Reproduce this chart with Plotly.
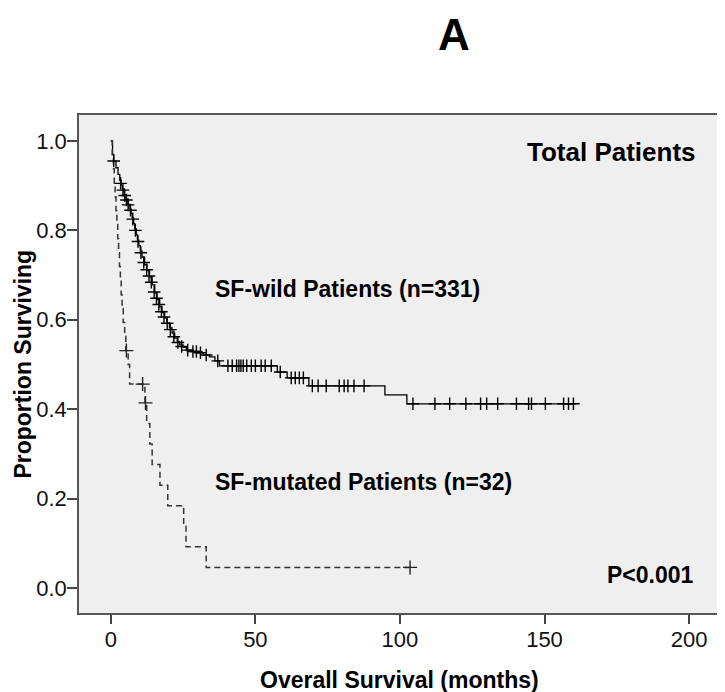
import plotly.graph_objects as go

# Kaplan-Meier steps (months, proportion surviving)
wild_t = [0, 0.6, 1.0, 1.8, 2.5, 3.1, 3.6, 4.0, 4.6, 5.2, 5.9, 6.6, 7.0, 7.4, 7.9, 8.3, 8.8, 9.2, 9.7,
          10.2, 10.8, 11.7, 12.5, 13.4, 14.3, 15.2, 16.0, 16.9, 17.7, 18.6, 19.4, 20.3, 21.2, 22.1,
          23.0, 23.8, 25.0, 26.1, 28.0, 30.0, 32.0, 34.1, 36.0, 37.6, 57.6, 61.0, 68.5, 94.8, 102.4, 161.0]
wild_s = [1.0, 0.97, 0.955, 0.94, 0.925, 0.912, 0.9, 0.893, 0.88, 0.87, 0.858, 0.848, 0.838, 0.828,
          0.815, 0.803, 0.79, 0.778, 0.766, 0.754, 0.74, 0.723, 0.71, 0.696, 0.678, 0.66, 0.645, 0.629,
          0.616, 0.604, 0.593, 0.582, 0.57, 0.559, 0.551, 0.544, 0.538, 0.532, 0.529, 0.526, 0.521,
          0.517, 0.508, 0.497, 0.483, 0.47, 0.452, 0.432, 0.412, 0.412]

# censored patients (the + marks)
wild_cens_t = [1.0, 3.4, 4.2, 4.8, 5.4, 6.0, 6.8, 7.6, 8.5, 9.4, 10.4, 11.4, 12.4, 13.2, 14.0, 15.0,
               15.8, 16.6, 17.5, 18.4, 19.5, 20.6, 21.8, 23.2, 24.5, 26.6, 28.4, 29.6, 31.0, 33.0, 37.0,
               40.5, 42.0, 43.5, 44.3, 45.0, 45.8, 47.0, 48.6, 50.0, 52.0, 53.4, 55.5,
               58.6, 62.4, 63.8, 65.2, 66.6,
               69.7, 71.7, 74.5, 79.0, 80.7, 82.0, 84.1, 87.6,
               104.5, 112.1, 117.2, 122.8, 127.9, 130.0, 133.8, 140.3, 144.5, 145.5, 150.3, 156.6, 158.3, 160.0]
wild_cens_s = [0.955, 0.905, 0.89, 0.878, 0.868, 0.857, 0.845, 0.825, 0.8, 0.775, 0.75, 0.728, 0.712,
               0.698, 0.684, 0.662, 0.648, 0.634, 0.618, 0.606, 0.592, 0.578, 0.562, 0.549, 0.54, 0.532,
               0.529, 0.529, 0.526, 0.521, 0.508,
               0.497, 0.497, 0.497, 0.497, 0.497, 0.497, 0.497, 0.497, 0.497, 0.497, 0.497, 0.497,
               0.483, 0.47, 0.47, 0.47, 0.47,
               0.452, 0.452, 0.452, 0.452, 0.452, 0.452, 0.452, 0.452,
               0.412, 0.412, 0.412, 0.412, 0.412, 0.412, 0.412, 0.412, 0.412, 0.412, 0.412, 0.412, 0.412, 0.412]

mut_t = [0, 0.5, 0.9, 1.2, 1.5, 1.8, 2.1, 2.4, 2.7, 3.0, 3.3, 3.6, 3.9, 4.3, 4.8, 5.2, 6.0, 6.5,
         11.8, 12.4, 13.5, 14.3, 17.0, 19.7, 25.2, 26.0, 33.0, 103.5]
mut_s = [1.0, 0.969, 0.938, 0.906, 0.875, 0.844, 0.813, 0.781, 0.75, 0.719, 0.688, 0.656, 0.625,
         0.594, 0.563, 0.531, 0.5, 0.456, 0.414, 0.368, 0.322, 0.276, 0.23, 0.184, 0.138, 0.092, 0.046, 0.046]

mut_cens_t = [5.4, 11.0, 12.0, 103.5]
mut_cens_s = [0.531, 0.456, 0.414, 0.046]

x_ticks = [0, 50, 100, 150, 200]
y_ticks = [0.0, 0.2, 0.4, 0.6, 0.8, 1.0]

FONT = "Liberation Sans, Arial, sans-serif"

fig = go.Figure()

fig.add_trace(go.Scatter(x=wild_t, y=wild_s, mode="lines", line_shape="hv",
                         line=dict(color="black", width=1.3), showlegend=False))
fig.add_trace(go.Scatter(x=mut_t, y=mut_s, mode="lines", line_shape="hv",
                         line=dict(color="#333333", width=1.5, dash="6px,4px"), showlegend=False))
fig.add_trace(go.Scatter(x=wild_cens_t, y=wild_cens_s, mode="markers", showlegend=False,
                         marker=dict(symbol="cross-thin", size=9, line=dict(color="black", width=1.4))))
fig.add_trace(go.Scatter(x=mut_cens_t, y=mut_cens_s, mode="markers", showlegend=False,
                         marker=dict(symbol="cross-thin", size=10, line=dict(color="#222222", width=1.4))))

bold = dict(family=FONT, color="black")

# page body has an 8px margin, so margins below are shifted to compensate
annotations = [
    dict(text="<b>A</b>", xref="paper", yref="paper", x=0.585, y=1.214, xanchor="center",
         yanchor="top", font=dict(size=44, **bold), showarrow=False),
    dict(text="<b>Total Patients</b>", x=203.1, y=0.975, xanchor="right", yanchor="middle",
         font=dict(size=26, **bold), showarrow=False),
    dict(text="<b>SF-wild Patients (n=331)</b>", x=35.2, y=0.668, xanchor="left", yanchor="middle",
         font=dict(size=23, **bold), showarrow=False),
    dict(text="<b>SF-mutated Patients (n=32)</b>", x=35.2, y=0.238, xanchor="left", yanchor="middle",
         font=dict(size=23, **bold), showarrow=False),
    dict(text="<b>P<0.001</b>", x=202.4, y=0.028, xanchor="right", yanchor="middle",
         font=dict(size=23, **bold), showarrow=False),
    dict(text="<b>Overall Survival (months)</b>", xref="paper", yref="paper", x=0.5, y=-0.135,
         xanchor="center", yanchor="middle", font=dict(size=23, **bold), showarrow=False),
    dict(text="<b>Proportion Surviving</b>", xref="paper", yref="paper", x=-0.088, y=0.5,
         xanchor="center", yanchor="middle", textangle=-90, font=dict(size=23, **bold), showarrow=False),
]

fig.update_layout(
    width=725, height=692,
    margin=dict(l=71, r=11, t=107, b=87),
    paper_bgcolor="white",
    plot_bgcolor="#efefef",
    font=dict(family=FONT, size=22, color="#111111"),
    annotations=annotations,
    showlegend=False,
)

fig.update_xaxes(range=[-11, 210.7], tickvals=x_ticks, ticktext=[str(v) for v in x_ticks],
                 ticks="outside", ticklen=9, tickwidth=1.5, tickcolor="#444444",
                 showline=True, linecolor="#555555", linewidth=1.5, mirror=True,
                 showgrid=False, zeroline=False, tickfont=dict(size=22), ticklabelstandoff=-3)
fig.update_yaxes(range=[-0.056, 1.058], tickvals=y_ticks, ticktext=[f"{v:.1f}" for v in y_ticks],
                 ticks="outside", ticklen=10, tickwidth=1.5, tickcolor="#444444",
                 showline=True, linecolor="#555555", linewidth=1.5, mirror=True,
                 showgrid=False, zeroline=False, tickfont=dict(size=22), ticklabelstandoff=-4)

fig.write_html("out.html")
